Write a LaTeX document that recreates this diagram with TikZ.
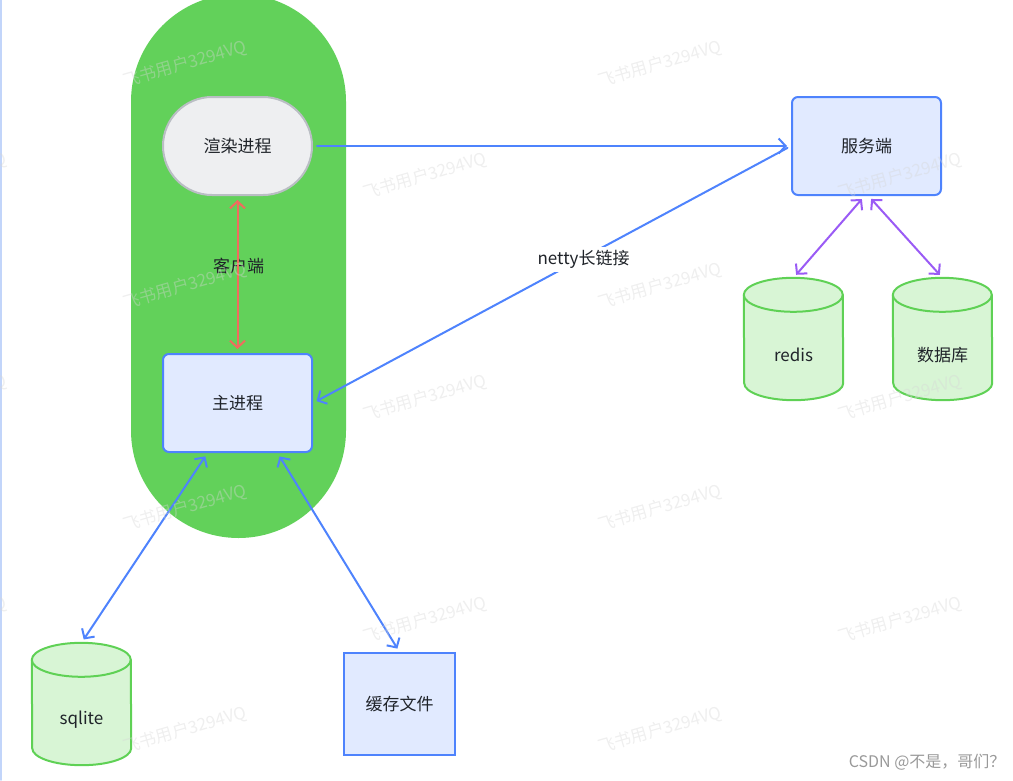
\documentclass[tikz,border=0pt]{standalone}
\usepackage{fontspec}
\setmainfont{Noto Sans CJK SC}
\usetikzlibrary{arrows.meta,backgrounds}

\definecolor{clientgreen}{HTML}{62D15A}
\definecolor{procgray}{HTML}{EEEFF1}
\definecolor{procline}{HTML}{BABEC4}
\definecolor{boxblue}{HTML}{E1EAFF}
\definecolor{lineblue}{HTML}{4E83FD}
\definecolor{dbgreen}{HTML}{D8F5D5}
\definecolor{dbline}{HTML}{5FD155}
\definecolor{linkred}{HTML}{F26B5E}
\definecolor{linkpurple}{HTML}{9A5BF5}
\definecolor{inkdark}{HTML}{1F2329}
\definecolor{wmgray}{HTML}{D6D6D6}
\definecolor{edgeblue}{HTML}{C2D5FA}

\tikzset{
	client/.style={rectangle,fill=clientgreen,minimum width=215pt,minimum height=544pt,rounded corners=107.5pt},
	proc/.style={rectangle,draw=procline,fill=procgray,line width=2pt,minimum width=149pt,minimum height=98pt,rounded corners=49pt},
	box/.style={rectangle,draw=lineblue,fill=boxblue,line width=2pt,minimum width=149pt,minimum height=98pt,rounded corners=6pt},
	filebox/.style={rectangle,draw=lineblue,fill=boxblue,line width=2pt,minimum width=111pt,minimum height=102pt},
	dbnode/.style={rectangle,minimum width=99pt,minimum height=122pt,label={[yshift=-16pt,text=inkdark]center:#1}},
	cylbody/.style={fill=dbgreen,draw=dbline,line width=2pt},
	link/.style={draw=lineblue,line width=2pt,shorten >=4pt,shorten <=4pt},
	redlink/.style={link,draw=linkred},
	purplelink/.style={link,draw=linkpurple},
	netlabel/.style={fill=white,inner sep=3pt},
	watermark/.style={text=wmgray,opacity=0.4,rotate=16,font=\fontsize{17}{20}\selectfont}
}

\begin{document}
\begin{tikzpicture}[x=1pt,y=-1pt,>={Straight Barb[length=7pt,width=15pt]},line cap=round,
		every node/.style={text=inkdark,font=\fontsize{17}{20}\selectfont}]
	\useasboundingbox (0,0) rectangle (1013,780);
	\draw[edgeblue,line width=1.5pt] (0.75,0) -- (0.75,780);

	% client side
	\node[client] (client) at (238.5,266) {客户端};
	\node[proc] (render) at (237.5,146) {渲染进程};
	\node[box] (main) at (237.5,403) {主进程};

	% server side
	\node[box] (server) at (866.5,146) {服务端};
	\node[dbnode=redis] (redis) at (793.5,339) {};
	\node[dbnode=数据库] (db) at (942.5,339) {};

	% local storage
	\node[dbnode=sqlite] (sqlite) at (81.5,704) {};
	\node[filebox] (cache) at (399.5,704) {缓存文件};

	\begin{scope}[on background layer]
		\foreach \c in {redis,db,sqlite}{
			\path[cylbody] ([yshift=-17pt]\c.north west) arc[start angle=180,end angle=0,x radius=49.5pt,y radius=17pt]
				-- ([yshift=17pt]\c.south east) arc[start angle=0,end angle=-180,x radius=49.5pt,y radius=17pt] -- cycle;
			\draw[dbline,line width=2pt] ([yshift=-17pt]\c.north west) arc[start angle=180,end angle=360,x radius=49.5pt,y radius=17pt];
		}
	\end{scope}

	\draw[link,->] (render.east) -- (server.west);
	\draw[link,->] (server.west) -- node[netlabel,pos=0.434,yshift=-2pt] {netty长链接} (main.east);
	\draw[redlink,<->] (render.south) -- (main.north);
	\draw[purplelink,<->] ([xshift=-2pt]server.south) -- (redis.north);
	\draw[purplelink,<->] ([xshift=2pt]server.south) -- (db.north);
	\draw[link,<->] ([xshift=-30pt]main.south) -- (sqlite.north);
	\draw[link,<->] ([xshift=40pt]main.south) -- (cache.north);

	% watermarks
	\foreach \wx in {185,660}
		\foreach \wy in {64,286,508,730}
			\node[watermark] (wm-\wx-\wy) at (\wx,\wy) {飞书用户3294VQ};
	\foreach \wx in {-55,425,900}
		\foreach \wy in {176,398,620}
			\node[watermark] (wm-\wx-\wy) at (\wx,\wy) {飞书用户3294VQ};
	\node[text=black!40,font=\fontsize{16}{19}\selectfont,anchor=east] (csdn) at (1009,762) {CSDN @不是，哥们？};
\end{tikzpicture}
\end{document}
